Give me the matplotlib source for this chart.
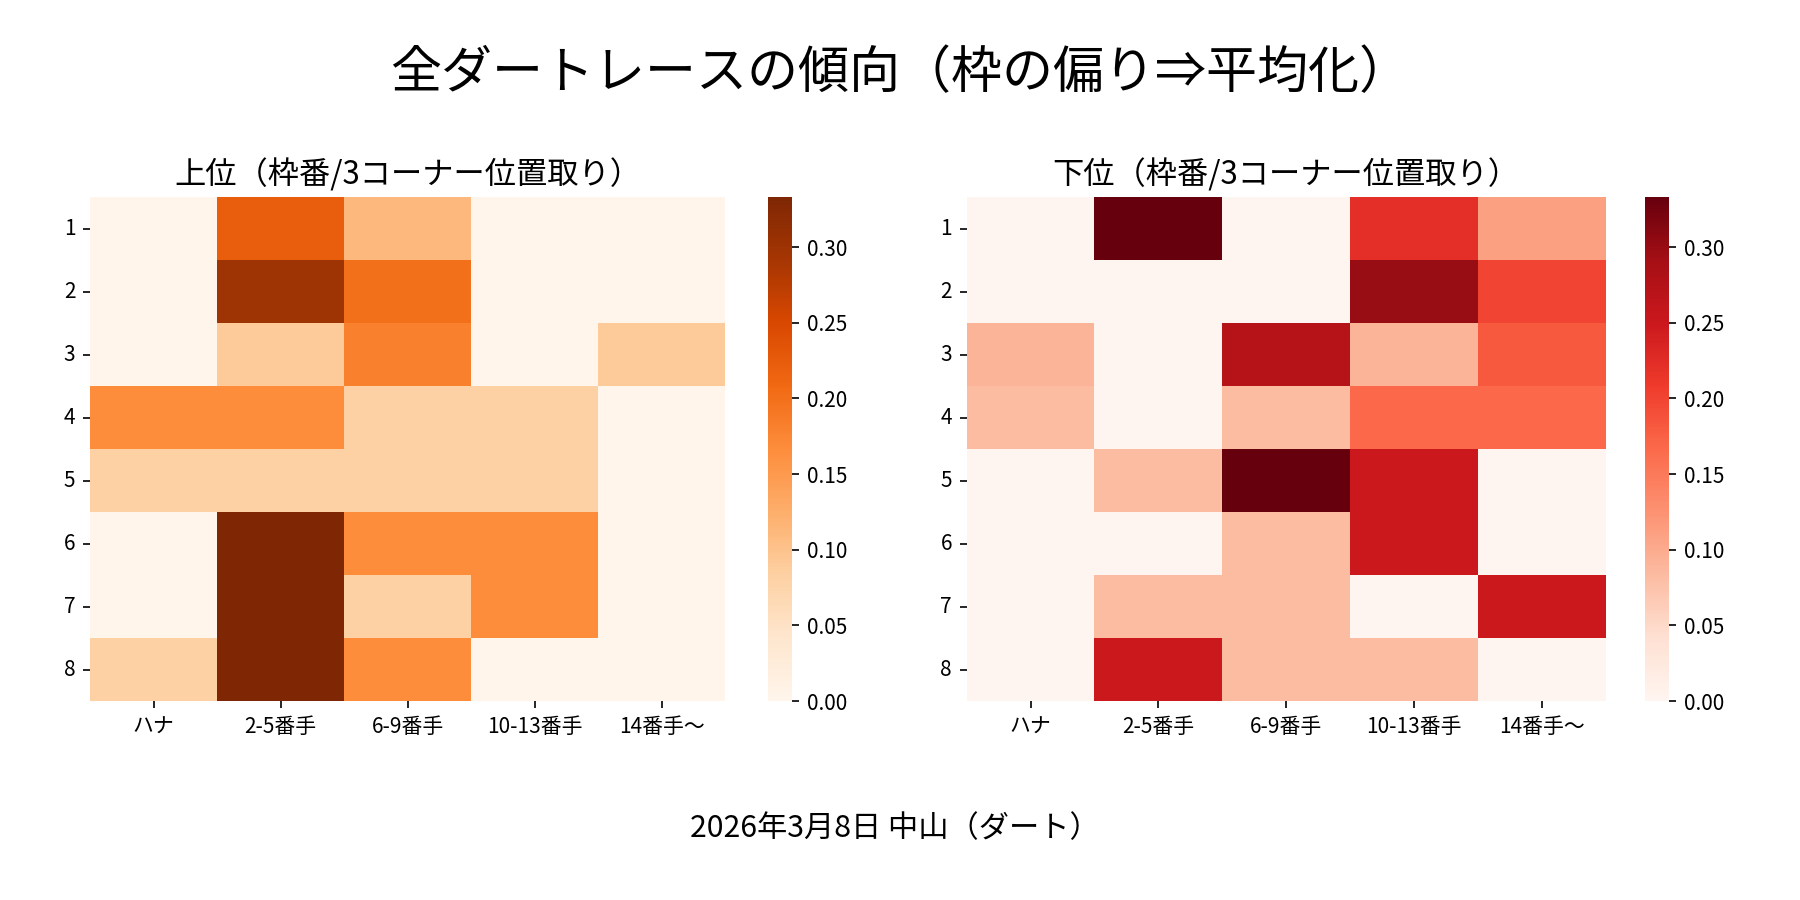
import numpy as np
import pandas as pd
import matplotlib
matplotlib.use("Agg")
import matplotlib.pyplot as plt
import seaborn as sns

plt.rcParams['font.family'] = ['Noto Sans CJK JP', 'DejaVu Sans']

### Data ###

waku = ["1", "2", "3", "4", "5", "6", "7", "8"]
positions = ["ハナ", "2-5番手", "6-9番手", "10-13番手", "14番手〜"]

# 上位 (rows = 枠番, cols = 3コーナー位置取り)
upper_1 = [0.000, 0.222, 0.111, 0.000, 0.000]
upper_2 = [0.000, 0.300, 0.200, 0.000, 0.000]
upper_3 = [0.000, 0.091, 0.182, 0.000, 0.091]
upper_4 = [0.167, 0.167, 0.083, 0.083, 0.000]
upper_5 = [0.083, 0.083, 0.083, 0.083, 0.000]
upper_6 = [0.000, 0.333, 0.167, 0.167, 0.000]
upper_7 = [0.000, 0.333, 0.083, 0.167, 0.000]
upper_8 = [0.083, 0.333, 0.167, 0.000, 0.000]

# 下位
lower_1 = [0.000, 0.333, 0.000, 0.222, 0.111]
lower_2 = [0.000, 0.000, 0.000, 0.300, 0.200]
lower_3 = [0.091, 0.000, 0.273, 0.091, 0.182]
lower_4 = [0.083, 0.000, 0.083, 0.167, 0.167]
lower_5 = [0.000, 0.083, 0.333, 0.250, 0.000]
lower_6 = [0.000, 0.000, 0.083, 0.250, 0.000]
lower_7 = [0.000, 0.083, 0.083, 0.000, 0.250]
lower_8 = [0.000, 0.250, 0.083, 0.083, 0.000]

upper = pd.DataFrame([upper_1, upper_2, upper_3, upper_4, upper_5, upper_6, upper_7, upper_8],
                     index=waku, columns=positions)
lower = pd.DataFrame([lower_1, lower_2, lower_3, lower_4, lower_5, lower_6, lower_7, lower_8],
                     index=waku, columns=positions)

### Plot ###

fig = plt.figure(figsize=(12, 6), dpi=150)

ax1 = fig.add_axes([0.050, 0.221, 0.353, 0.560])
cax1 = fig.add_axes([0.4267, 0.221, 0.0133, 0.560])
ax2 = fig.add_axes([0.537, 0.221, 0.355, 0.560])
cax2 = fig.add_axes([0.914, 0.221, 0.0133, 0.560])

sns.heatmap(upper, ax=ax1, cbar_ax=cax1, cmap="Oranges", vmin=0)
sns.heatmap(lower, ax=ax2, cbar_ax=cax2, cmap="Reds", vmin=0)

for ax, title in [(ax1, "上位（枠番/3コーナー位置取り）"), (ax2, "下位（枠番/3コーナー位置取り）")]:
    ax.set_title(title, fontsize=15)
    ax.set_xlabel("")
    ax.set_ylabel("")
    ax.tick_params(axis='both', labelsize=10)
    ax.set_yticklabels(ax.get_yticklabels(), rotation=0)
    ax.set_xticklabels(ax.get_xticklabels(), rotation=0)

for cax in [cax1, cax2]:
    cax.tick_params(labelsize=10)

fig.suptitle("全ダートレースの傾向（枠の偏り⇒平均化）", fontsize=24.5, y=0.919, va='center')
fig.text(0.497, 0.079, "2026年3月8日 中山（ダート）", fontsize=14.5, ha='center', va='center')

plt.savefig("out.png", dpi=150)
